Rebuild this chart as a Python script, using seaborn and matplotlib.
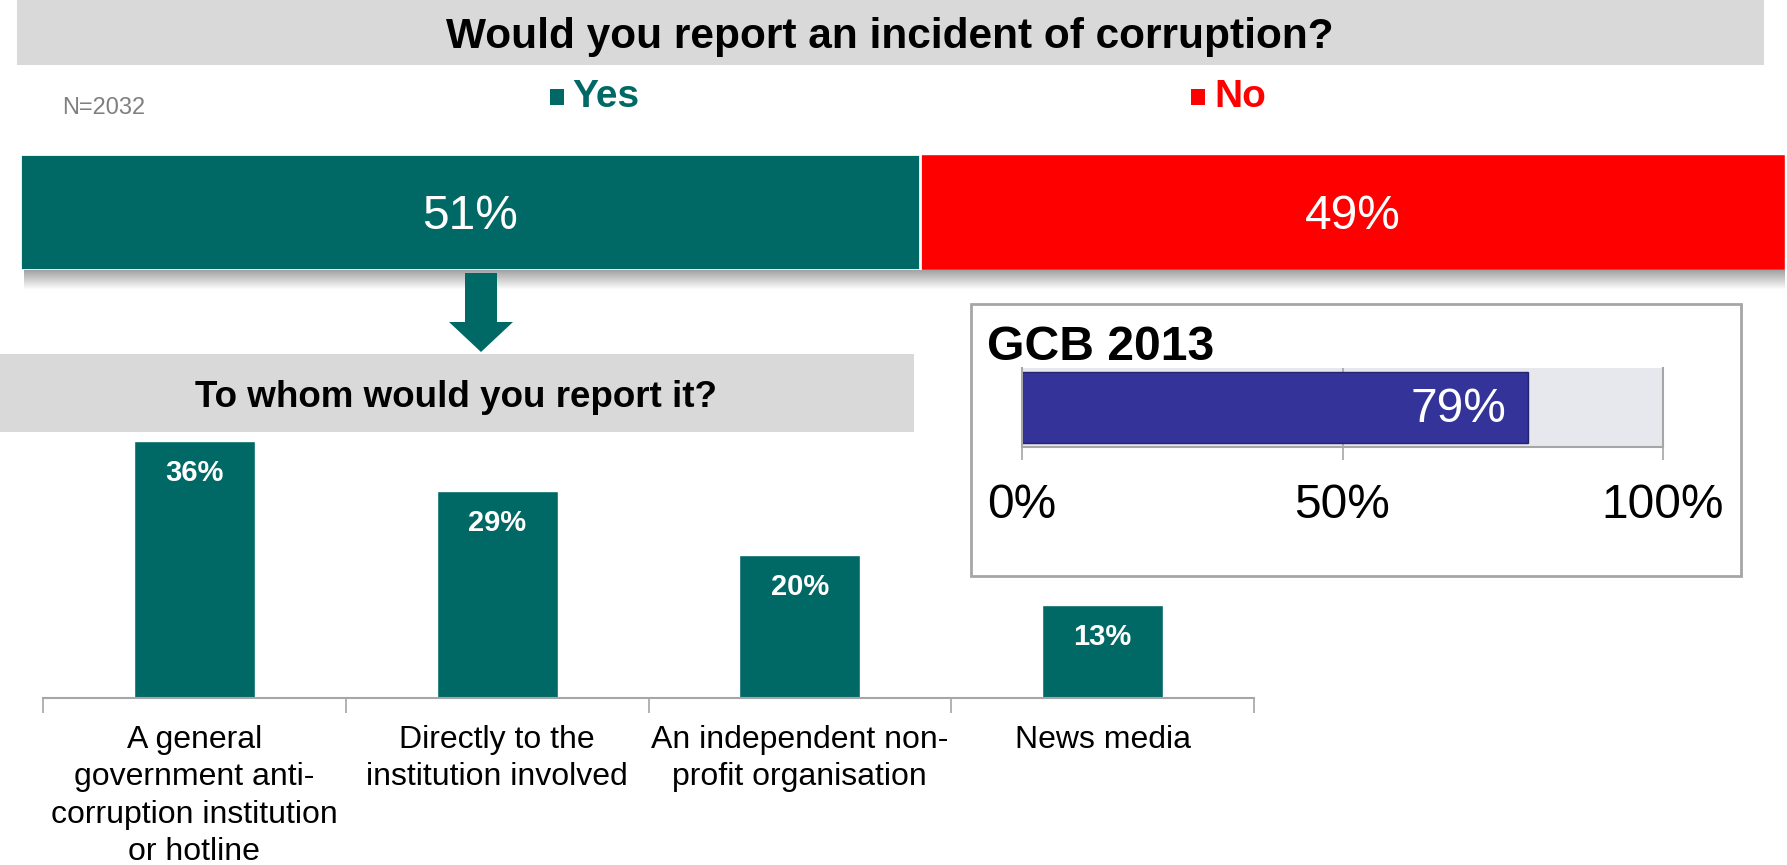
import numpy as np
import pandas as pd
import matplotlib
matplotlib.use("Agg")
import matplotlib.pyplot as plt
from matplotlib.patches import Rectangle, Polygon
import seaborn as sns

# ---- data ----
answer_labels = ["Yes", "No"]
answer_shares = [51, 49]

channels = [
    "A general\ngovernment anti-\ncorruption institution\nor hotline",
    "Directly to the\ninstitution involved",
    "An independent non-\nprofit organisation",
    "News media",
]
channel_shares = [36, 29, 20, 13]

gcb_label = ["GCB 2013"]
gcb_share = [79]
gcb_ticks = [0, 50, 100]

sample_note = "N=2032"
main_question = "Would you report an incident of corruption?"
follow_question = "To whom would you report it?"

# ---- style ----
TEAL = "#006966"
RED = "#FF0000"
BLUE = "#333399"
BOX_GRAY = "#D9D9D9"
LINE_GRAY = "#A6A6A6"

sns.set_theme(style="white")
plt.rcParams["font.family"] = ["Liberation Sans", "DejaVu Sans"]

W, H = 1787, 865
fig = plt.figure(figsize=(W / 100, H / 100), dpi=100)


def frac(x0, y0, x1, y1):
    """Pixel box (top-left origin) -> figure fraction rect."""
    return [x0 / W, 1 - y1 / H, (x1 - x0) / W, (y1 - y0) / H]


# overlay in pixel coordinates for boxes, headings and the arrow
ov = fig.add_axes([0, 0, 1, 1], zorder=0)
ov.set_xlim(0, W)
ov.set_ylim(H, 0)
ov.axis("off")

ov.add_patch(Rectangle((17, 0), 1747, 65, color=BOX_GRAY, lw=0))
ov.text(890, 48, main_question, ha="center", va="baseline",
        fontsize=30.5, fontweight="bold", color="black")

ov.text(62, 114, sample_note, ha="left", va="baseline", fontsize=17, color="#808080")

# legend entries
leg_pos = [(550, 572), (1191, 1214)]
leg_cols = [TEAL, RED]
for (mx, tx), lab, col in zip(leg_pos, answer_labels, leg_cols):
    ov.add_patch(Rectangle((mx, 89), 14, 16, color=col, lw=0))
    ov.text(tx, 107, lab, ha="left", va="baseline", fontsize=28,
            fontweight="bold", color=col)

# soft shadow under the main bar
grad = np.linspace(0.62, 1.0, 30)[:, None]
ov.imshow(grad, cmap="gray", vmin=0, vmax=1, extent=[24, 1785, 290, 269],
          aspect="auto", zorder=1)

# arrow from "Yes" down to the follow-up question
ov.add_patch(Polygon([(465, 273), (497, 273), (497, 322), (513, 322),
                      (481, 352), (449, 322), (465, 322)],
                     closed=True, color=TEAL, lw=0))

ov.add_patch(Rectangle((0, 354), 914, 78, color=BOX_GRAY, lw=0))
ov.text(456, 407, follow_question, ha="center", va="baseline",
        fontsize=26.5, fontweight="bold", color="black")

# GCB 2013 frame
ov.add_patch(Rectangle((971, 304), 770, 272, fill=False, ec=LINE_GRAY, lw=2))
ov.text(987, 347, gcb_label[0], ha="left", va="center",
        fontsize=34.7, fontweight="bold", color="black")

# ---- main stacked bar ----
ax1 = fig.add_axes(frac(20, 154, 1785, 270), zorder=2)
row = ["all"]
sns.barplot(x=[sum(answer_shares)], y=row, orient="h", color=RED, width=1,
            saturation=1, ax=ax1)
sns.barplot(x=[answer_shares[0]], y=row, orient="h", color=TEAL, width=1,
            saturation=1, edgecolor="white", linewidth=2, ax=ax1)
ax1.set_xlim(0, 100)
ax1.set_ylim(0.5, -0.5)
ax1.axis("off")
left = 0
for v in answer_shares:
    ax1.text(left + v / 2, 0.04, f"{v}%", ha="center", va="center",
             fontsize=34.5, color="white")
    left += v

# ---- channel bar chart ----
ax2 = fig.add_axes(frac(43, 412.5, 1254, 697.5), zorder=2)
ax2.patch.set_alpha(0)
sns.barplot(x=list(range(len(channels))), y=channel_shares, color=TEAL,
            width=0.4, saturation=1, ax=ax2, native_scale=True)
ax2.set_xlim(-0.5, len(channels) - 0.5)
ax2.set_ylim(0, 40)
for s in ["left", "right", "top"]:
    ax2.spines[s].set_visible(False)
ax2.spines["bottom"].set_color(LINE_GRAY)
ax2.spines["bottom"].set_linewidth(1.5)
ax2.set_yticks([])
ax2.set_xticks(np.arange(-0.5, len(channels), 1.0), labels=[])
ax2.set_xticks(range(len(channels)), labels=channels, minor=True)
ax2.tick_params(axis="x", which="major", bottom=True, length=11, width=1.2,
                color=LINE_GRAY, direction="out")
ax2.tick_params(axis="x", which="minor", bottom=True, length=0, pad=19.5,
                labelsize=23, labelcolor="black")
for lbl in ax2.get_xticklabels(minor=True):
    lbl.set_linespacing(1.33)
ax2.set_xlabel("")
ax2.set_ylabel("")
for i, v in enumerate(channel_shares):
    ax2.annotate(f"{v}%", (i, v), xytext=(0, -23), textcoords="offset points",
                 ha="center", va="center", fontsize=21, fontweight="bold",
                 color="white")

# ---- GCB 2013 comparison bar ----
ax3 = fig.add_axes(frac(1022, 368, 1663, 447), zorder=2)
ax3.set_facecolor("#E7E7EE")
sns.barplot(x=gcb_share, y=gcb_label, orient="h", color=BLUE, width=0.89,
            saturation=1, edgecolor="#23236E", linewidth=1, ax=ax3)
ax3.set_xlim(0, 100)
ax3.set_ylim(0.5, -0.5)
ax3.set_axisbelow(True)
ax3.xaxis.grid(True, color=LINE_GRAY, lw=1.2)
ax3.spines["top"].set_visible(False)
for s in ["left", "right", "bottom"]:
    ax3.spines[s].set_color(LINE_GRAY)
    ax3.spines[s].set_linewidth(1.5)
ax3.set_yticks([])
ax3.set_xticks(gcb_ticks, labels=[f"{t}%" for t in gcb_ticks])
ax3.tick_params(axis="x", bottom=True, length=9.5, width=1.2, color=LINE_GRAY,
                pad=16.5, labelsize=34.5, labelcolor="black")
ax3.set_xlabel("")
ax3.set_ylabel("")
ax3.text(gcb_share[0] - 3.5, 0.03, f"{gcb_share[0]}%", ha="right", va="center",
         fontsize=34.5, color="white")

fig.savefig("out.png", dpi=100)
